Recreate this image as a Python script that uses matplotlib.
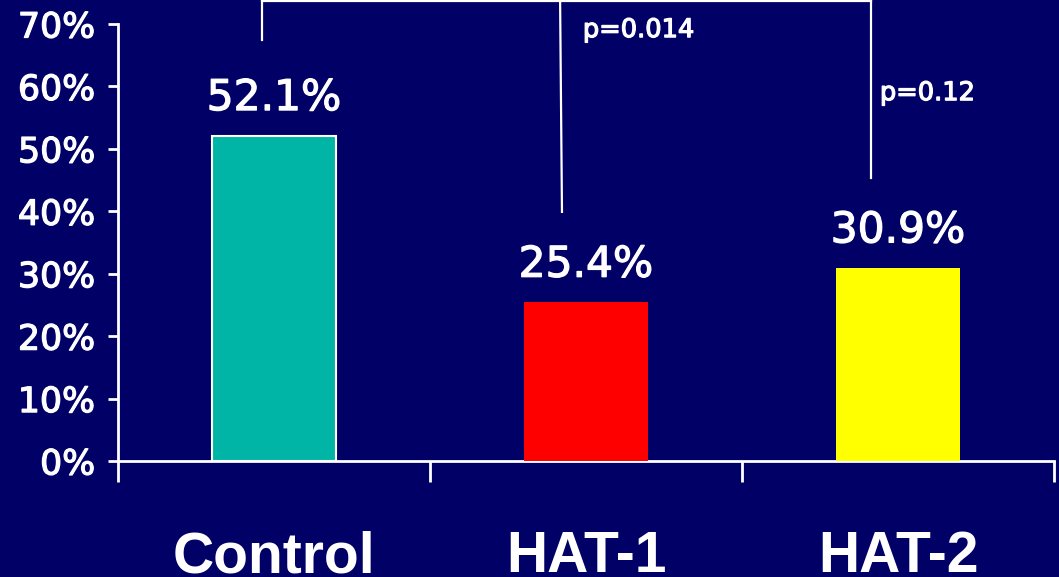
import matplotlib
matplotlib.use("Agg")
import matplotlib.pyplot as plt
import matplotlib.patheffects as pe
import numpy as np

categories = ["Control", "HAT-1", "HAT-2"]
values = [52.1, 25.4, 30.9]
bar_colors = ["#00B5A5", "#FF0000", "#FFFF00"]
y_ticks = [0, 10, 20, 30, 40, 50, 60, 70]
p_labels = ["p=0.014", "p=0.12"]

BG = "#000066"
FG = "white"
thick = [pe.withStroke(linewidth=0.9, foreground=FG)]

fig = plt.figure(figsize=(10.59, 5.77), dpi=100, facecolor=BG)
ax = fig.add_axes([118 / 1059, 1 - 461 / 577, 936 / 1059, 437 / 577])
ax.set_facecolor(BG)

x = np.arange(len(categories))
bars = ax.bar(x, values, width=0.40, color=bar_colors, zorder=3)
bars[0].set_edgecolor(FG)
bars[0].set_linewidth(1.5)

ax.set_xlim(-0.5, len(categories) - 0.5)
ax.set_ylim(0, 70)

# spines
for s in ["top", "right"]:
    ax.spines[s].set_visible(False)
for s in ["left", "bottom"]:
    ax.spines[s].set_color(FG)
    ax.spines[s].set_linewidth(2)

# y axis
ax.set_yticks(y_ticks)
ax.set_yticklabels([f"{t}%" for t in y_ticks])
ax.tick_params(axis="y", colors=FG, length=7.5, width=2, pad=9,
               labelsize=25)
for lab in ax.get_yticklabels():
    lab.set_fontfamily("DejaVu Sans")
    lab.set_path_effects(thick)

# x axis: category boundaries as minor ticks, names as major labels
ax.set_xticks(x)
ax.set_xticklabels(categories)
ax.set_xticks(np.arange(-0.5, len(categories)), minor=True)
ax.tick_params(axis="x", which="major", length=0, pad=80, colors=FG,
               labelsize=41)
ax.tick_params(axis="x", which="minor", length=15, width=2, colors=FG)
for lab in ax.get_xticklabels():
    lab.set_fontfamily("Liberation Sans")
    lab.set_fontweight("bold")
    lab.set_verticalalignment("baseline")

# value labels above bars
for xi, v in zip(x, values):
    ax.annotate(f"{v}%", xy=(xi, v), xytext=(0, 18.5), textcoords="offset points",
                ha="center", va="baseline", color=FG, fontsize=30.5,
                fontfamily="DejaVu Sans", path_effects=thick)

# significance brackets
top = 73.7
lw = 1.6
ax.plot([-0.04, 1.913], [top, top], color=FG, lw=lw, clip_on=False)
ax.plot([-0.04, -0.04], [top, 67.4], color=FG, lw=lw, clip_on=False)
ax.plot([0.917, 0.923], [top, 39.9], color=FG, lw=lw, clip_on=False)
ax.plot([1.913, 1.913], [top, 45.3], color=FG, lw=lw, clip_on=False)

ax.text(0.99, 67.9, p_labels[0], color=FG, fontsize=18.5, fontfamily="DejaVu Sans",
        ha="left", va="baseline", path_effects=thick)
ax.text(1.942, 57.8, p_labels[1], color=FG, fontsize=18.5, fontfamily="DejaVu Sans",
        ha="left", va="baseline", path_effects=thick)

fig.savefig("out.png", dpi=100, facecolor=BG)
